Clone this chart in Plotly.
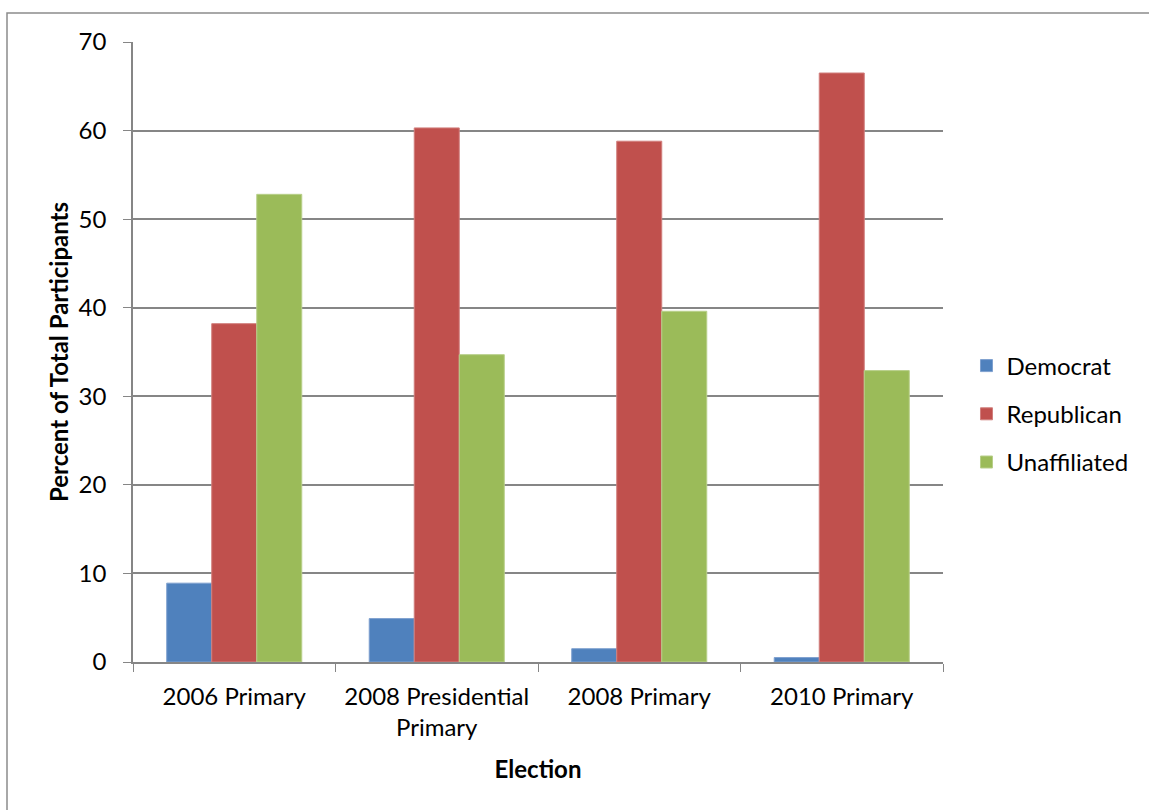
import plotly.graph_objects as go

elections = ["2006 Primary", "2008 Presidential<br>Primary", "2008 Primary", "2010 Primary"]
democrat = [8.9, 4.9, 1.5, 0.5]
republican = [38.2, 60.3, 58.8, 66.5]
unaffiliated = [52.8, 34.7, 39.6, 32.9]

series = [
    ("Democrat", democrat, "#4F81BD", "#7EA0CF"),
    ("Republican", republican, "#C0504D", "#D17F7D"),
    ("Unaffiliated", unaffiliated, "#9BBB59", "#B8CF8A"),
]

FONT = "Lato, Open Sans, sans-serif"
GRID = "#868686"
FS = 24

fig = go.Figure()
for name, vals, color, edge in series:
    fig.add_trace(go.Bar(
        x=elections, y=vals, name=name, legendgroup=name,
        marker=dict(color=color, line=dict(color=edge, width=1)),
    ))

fig.update_layout(
    width=1149, height=810,
    margin=dict(l=133, r=206, t=42, b=148),
    paper_bgcolor="white", plot_bgcolor="white",
    barmode="group", bargap=0.333, bargroupgap=0,
    font=dict(family=FONT, size=FS, color="black"),
    legend=dict(
        x=1.029, y=0.4, xanchor="left", yanchor="middle",
        font=dict(size=FS), tracegroupgap=14,
        itemwidth=30,
    ),
    xaxis=dict(
        type="category", tickson="boundaries",
        ticks="outside", ticklen=8, tickcolor=GRID, tickwidth=1,
        showline=True, linecolor=GRID, linewidth=1.5,
        showgrid=False, ticklabelstandoff=12,
        title=dict(text="<b>Election</b>", font=dict(size=FS), standoff=21),
    ),
    yaxis=dict(
        range=[0, 70], dtick=10, ticks="outside", ticklen=8,
        tickcolor=GRID, tickwidth=1,
        showline=True, linecolor=GRID, linewidth=1.5,
        showgrid=True, gridcolor=GRID, gridwidth=1.5,
        zeroline=False, ticklabelstandoff=12,
        title=dict(text="<b>Percent of Total Participants</b>", font=dict(size=FS), standoff=3),
    ),
    shapes=[dict(
        type="rect", xref="paper", yref="paper",
        x0=(7 - 133) / 810, x1=(1170 - 133) / 810,
        y0=(662 - 830) / 620, y1=(662 - 13) / 620,
        line=dict(color="#8C8C8C", width=1.5), fillcolor="rgba(0,0,0,0)",
        layer="below",
    )],
)

fig.write_html("out.html")
